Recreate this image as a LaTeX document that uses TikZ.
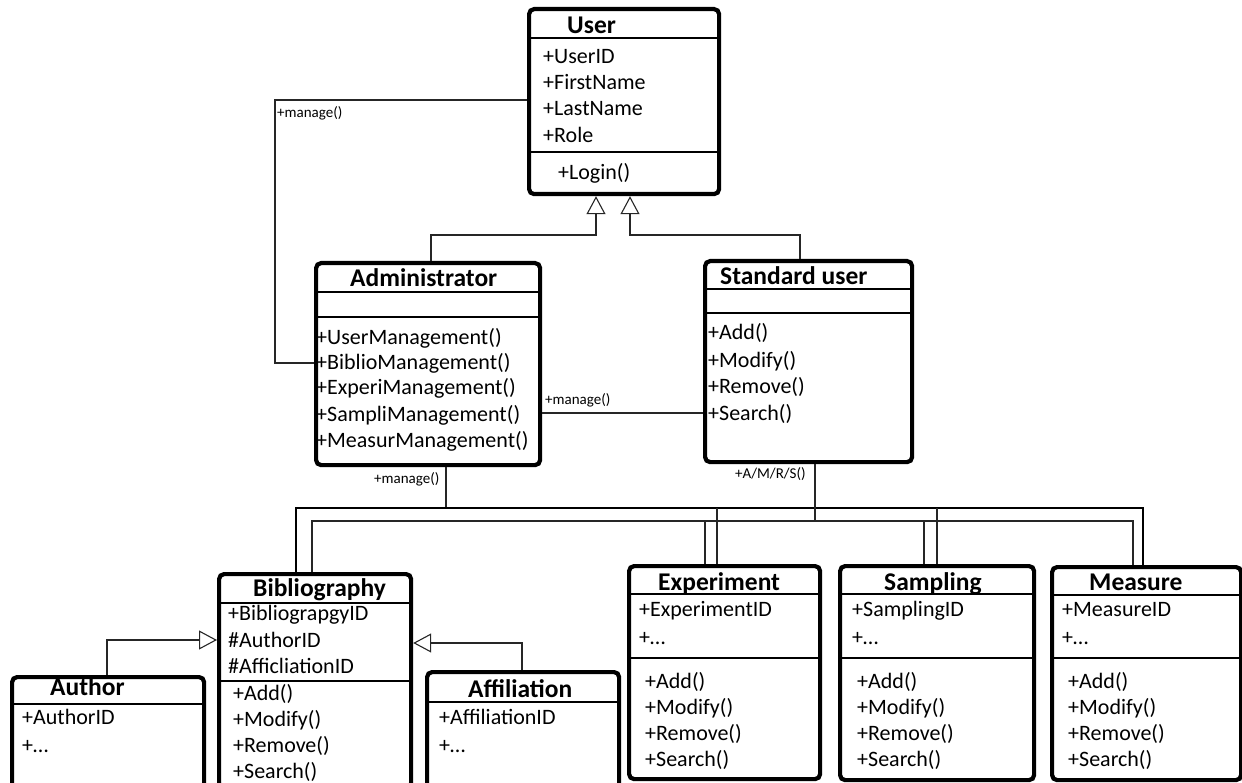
\documentclass[tikz,border=0pt]{standalone}
\usepackage{fontspec}
\setmainfont{Carlito}
\usetikzlibrary{arrows.meta}
\tikzset{
 classbox/.style={draw, line width=4.2pt, rounded corners=5pt, inner sep=0pt},
 sepline/.style={line width=2.8pt},
 cls/.style={font=\bfseries\fontsize{25.5}{30}\selectfont, inner sep=0pt, anchor=west, text height=16pt, text depth=0pt},
 item/.style={font=\fontsize{22}{26}\selectfont, inner sep=0pt, anchor=west, text height=14pt, text depth=0pt},
 lbl/.style={font=\fontsize{15}{18}\selectfont, inner sep=0pt, anchor=west, text height=9.6pt, text depth=0pt},
 conn/.style={line width=1.1pt, draw=black!85},
 bus/.style={line width=2.8pt, draw=black},
 gen/.style={conn, -{Triangle[open, length=18pt, width=19pt, line width=1.1pt]}},
}
\newcommand\umlbox[5]{\node[classbox, anchor=north west, minimum width={#4-#2}, minimum height={#5-#3}] (#1) at (#2,#3) {};}
\begin{document}
\begin{tikzpicture}[x=1pt,y=-1pt]
\useasboundingbox (0,0) rectangle (1242,783);
\clip (0,0) rectangle (1242,783);

% ---------- boxes ----------
\umlbox{user}{527}{7}{717}{192}
\draw[sepline] (527,38) -- (717,38);
\draw[sepline] (527,152) -- (717,152);
\node[cls] (userT) at (567,26) {User};
\node[item] (u1) at (543,57) {+UserID};
\node[item] (u2) at (543,83) {+FirstName};
\node[item] (u3) at (543,109) {+LastName};
\node[item] (u4) at (543,136) {+Role};
\node[item] (u5) at (558,173) {+Login()};

\umlbox{admin}{314}{261}{538}{463}
\draw[sepline] (314,292) -- (538,292);
\draw[sepline] (314,317) -- (538,317);
\node[cls] (adminT) at (350,279) {Administrator};
\node[item] (a1) at (316,338) {+UserManagement()};
\node[item] (a2) at (316,363) {+BiblioManagement()};
\node[item] (a3) at (316,388) {+ExperiManagement()};
\node[item] (a4) at (316,414) {+SampliManagement()};
\node[item] (a5) at (316,440) {+MeasurManagement()};

\umlbox{std}{703}{259}{910}{460}
\draw[sepline] (703,289) -- (910,289);
\draw[sepline] (703,313) -- (910,313);
\node[cls] (stdT) at (720,277) {Standard user};
\node[item] (s1) at (708,333) {+Add()};
\node[item] (s2) at (708,360) {+Modify()};
\node[item] (s3) at (708,386) {+Remove()};
\node[item] (s4) at (708,413) {+Search()};

\umlbox{bib}{217}{572}{409}{786}
\draw[sepline] (217,603) -- (409,603);
\draw[sepline] (217,681) -- (409,681);
\node[cls] (bibT) at (253,588) {Bibliography};
\node[item] (b1) at (228,613) {+BibliograpgyID};
\node[item] (b2) at (228,640) {\#AuthorID};
\node[item] (b3) at (228,666) {\#AfficliationID};
\node[item] (b4) at (233,693) {+Add()};
\node[item] (b5) at (233,719) {+Modify()};
\node[item] (b6) at (233,745) {+Remove()};
\node[item] (b7) at (233,771) {+Search()};

\umlbox{author}{10}{675}{202}{790}
\draw[sepline] (10,704) -- (202,704);
\node[cls] (authorT) at (50,687) {Author};
\node[item] (au1) at (22,717) {+AuthorID};
\node[item] (au2) at (22,745) {+…};

\umlbox{affil}{425}{670}{617}{790}
\draw[sepline] (425,702) -- (617,702);
\node[cls] (affilT) at (468,689) {Affiliation};
\node[item] (af1) at (439,717) {+AffiliationID};
\node[item] (af2) at (439,745) {+…};

\umlbox{exp}{627}{564}{818}{777}
\draw[sepline] (627,594) -- (818,594);
\draw[sepline] (627,658) -- (818,658);
\node[cls] (expT) at (658,582) {Experiment};
\node[item] (e1) at (639,609) {+ExperimentID};
\node[item] (e2) at (639,637) {+…};
\node[item] (e3) at (645,681) {+Add()};
\node[item] (e4) at (645,707) {+Modify()};
\node[item] (e5) at (645,733) {+Remove()};
\node[item] (e6) at (645,759) {+Search()};

\umlbox{samp}{838}{564}{1032}{778}
\draw[sepline] (838,594) -- (1032,594);
\draw[sepline] (838,658) -- (1032,658);
\node[cls] (sampT) at (884,582) {Sampling};
\node[item] (p1) at (852,609) {+SamplingID};
\node[item] (p2) at (852,637) {+…};
\node[item] (p3) at (857,681) {+Add()};
\node[item] (p4) at (857,707) {+Modify()};
\node[item] (p5) at (857,733) {+Remove()};
\node[item] (p6) at (857,759) {+Search()};

\umlbox{meas}{1050}{565}{1239}{778}
\draw[sepline] (1050,595) -- (1239,595);
\draw[sepline] (1050,658) -- (1239,658);
\node[cls] (measT) at (1089,582) {Measure};
\node[item] (m1) at (1062,609) {+MeasureID};
\node[item] (m2) at (1062,637) {+…};
\node[item] (m3) at (1068,681) {+Add()};
\node[item] (m4) at (1068,707) {+Modify()};
\node[item] (m5) at (1068,733) {+Remove()};
\node[item] (m6) at (1068,759) {+Search()};

% ---------- connectors ----------
\coordinate (ga) at (431,235);
\coordinate (gb) at (596,235);
\coordinate (gc) at (800,235);
\coordinate (gd) at (630,235);
\draw[gen] (ga |- admin.north) -- (ga) -- (gb) -- (gb |- user.south);
\draw[gen] (gc |- std.north) -- (gc) -- (gd) -- (gd |- user.south);

\coordinate (k1) at (275,100);
\coordinate (k2) at (275,363);
\draw[conn] (k1 -| user.west) -- (k1) -- (k2) -- (k2 -| admin.west);
\node[lbl] (lab1) at (277,113) {+manage()};

\coordinate (k3) at (600,413);
\draw[conn] (k3 -| admin.east) -- (k3 -| std.west);
\node[lbl] (lab2) at (545,400) {+manage()};

% thick bus from Administrator
\coordinate (ad) at (446,508);
\coordinate (tb1) at (296,508);
\coordinate (tb2) at (1143,508);
\coordinate (tbe) at (717,508);
\coordinate (tbs) at (937,508);
\draw[conn] (ad |- admin.south) -- (ad);
\draw[bus] (tb1 |- bib.north) -- (tb1) -- (tb2) -- (tb2 |- meas.north);
\draw[conn] (tbe) -- (tbe |- exp.north);
\draw[conn] (tbs) -- (tbs |- samp.north);
\node[lbl] (lab3) at (374,479) {+manage()};

% thin bus from Standard user
\coordinate (sd) at (815,521);
\coordinate (nb1) at (312,521);
\coordinate (nb2) at (1133,521);
\coordinate (nbe) at (705,521);
\coordinate (nbs) at (924,521);
\draw[conn] (sd |- std.south) -- (sd);
\draw[conn] (nb1 |- bib.north) -- (nb1) -- (nb2) -- (nb2 |- meas.north);
\draw[conn] (nbe) -- (nbe |- exp.north);
\draw[conn] (nbs) -- (nbs |- samp.north);
\node[lbl] (lab4) at (735,474) {+A/M/R/S()};

% generalisations to Bibliography
\coordinate (au) at (107,640);
\coordinate (af) at (522,643);
\draw[gen] (au |- author.north) -- (au) -- (au -| bib.west);
\draw[gen] (af |- affil.north) -- (af) -- (af -| bib.east);
\end{tikzpicture}
\end{document}
